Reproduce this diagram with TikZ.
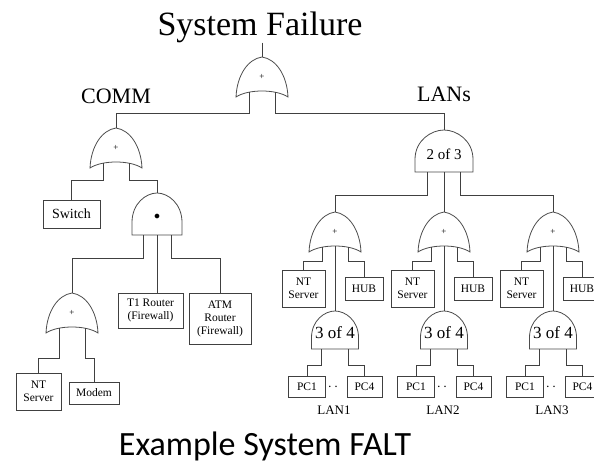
\documentclass[tikz,border=0pt]{standalone}
\usepackage{fontspec}
\setmainfont{Liberation Serif}
\newfontfamily\captionfont{Carlito}
\usetikzlibrary{%
	calc,%
	arrows.meta,%
	positioning,%
}
\tikzset{
	>=Triangle,%
	nodes={align=center},%
	wire/.style={%
			draw=black!75,%
			line width=0.8pt},%
	gate/.style={%
			draw=black!70,%
			line width=0.8pt,%
			fill=white},%
	gatetext/.style={%
			inner sep=0,%
			font={\fontsize{15}{15}\selectfont}},%
	event/.style={%
			draw=black!75,%
			rectangle,%
			line width=0.8pt,%
			inner sep=0,%
			font={\fontsize{11.5}{13}\selectfont}},%
	heading/.style={%
			inner sep=0,%
			anchor=base,%
			font={\fontsize{22}{24}\selectfont}},%
	lanname/.style={%
			inner sep=0,%
			anchor=base,%
			font={\fontsize{13}{14}\selectfont}},%
	pics/orgate/.style={code={%
				\draw[gate] (-26,40) .. controls (-25,18) and (-14,2) .. (0,0) .. controls (14,2) and (25,18) .. (26,40) .. controls (14,32) and (-14,32) .. cycle;
				\node[gatetext, font={\fontsize{9}{9}\selectfont}] (-sym) at (0,20) {+};
				\coordinate (-out) at (0,0);
				\coordinate (-l) at (-13,35);
				\coordinate (-m) at (0,34);
				\coordinate (-r) at (13,35);
			}},%
	pics/andgate/.style n args={3}{code={%
				\draw[gate] (-#1/2,#2) -- (-#1/2,0.7*#2) .. controls (-#1/2,0.25*#2) and (-0.22*#1,0) .. (0,0) .. controls (0.22*#1,0) and (#1/2,0.25*#2) .. (#1/2,0.7*#2) -- (#1/2,#2) -- cycle;
				\node[gatetext] (-sym) at (0,0.57*#2) {#3};
				\coordinate (-out) at (0,0);
				\coordinate (-l) at (-0.28*#1,#2);
				\coordinate (-m) at (0,#2);
				\coordinate (-r) at (0.28*#1,#2);
			}},%
}

\begin{document}
\begin{tikzpicture}[x=1pt, y=-1pt]%
	\useasboundingbox (0,0) rectangle (594,469);

	\node[inner sep=0, anchor=base, font={\fontsize{34}{36}\selectfont}] (title) at (260,35) {System Failure};
	\pic (sf) at (262,57) {orgate};

	\node[heading] (comm) at (116,103) {COMM};
	\pic (co) at (116,128) {orgate};
	\node[event, font={\fontsize{14}{15}\selectfont}, minimum width=57, minimum height=28] (sw) at (71.5,214) {Switch};
	\pic (fw) at (157,193) {andgate={50}{42}{\fontsize{13}{13}\selectfont$\bullet$}};
	\pic (srv) at (72,293) {orgate};
	\node[event, minimum width=65, minimum height=35] (t1) at (150.5,310.5) {T1 Router\\(Firewall)};
	\node[event, minimum width=62, minimum height=51] (atm) at (220,318.5) {ATM\\Router\\(Firewall)};
	\node[event, minimum width=45, minimum height=37] (nt0) at (38.5,391.5) {NT\\Server};
	\node[event, minimum width=50, minimum height=22] (mdm) at (94,393) {Modem};

	\node[heading] (lans) at (444,101) {LANs};
	\pic (vote) at (444,130) {andgate={58}{42}{2 of 3}};

	\foreach \i/\dx in {1/0,2/109,3/218} {
		\pic (lan\i) at (335+\dx,212) {orgate};
		\node[event, minimum width=43, minimum height=37] (nt\i) at (303.5+\dx,288.5) {NT\\Server};
		\node[event, minimum width=38, minimum height=23] (hub\i) at (364+\dx,288.5) {HUB};
		\pic (k\i) at (335+\dx,311) {andgate={47}{38}{\fontsize{17}{17}\selectfont 3 of 4}};
		\node[event, minimum width=37, minimum height=21] (pca\i) at (307+\dx,386.5) {PC1};
		\node[event, minimum width=35, minimum height=21] (pcb\i) at (364.5+\dx,386.5) {PC4};
		\node[inner sep=0, font={\fontsize{14}{14}\selectfont}] (dots\i) at (333+\dx,387) {$\cdot\,\cdot$};
		\node[lanname] (lbl\i) at (334+\dx,414) {LAN\i};

		\draw[wire] (lan\i-l) -- ++(0,14) -| (nt\i.north);
		\draw[wire] (lan\i-r) -- ++(0,14) -| (hub\i.north);
		\draw[wire] (lan\i-m) -- (k\i-out);
		\draw[wire] (k\i-l) -- ++(0,16) -| (pca\i.north);
		\draw[wire] (k\i-r) -- ++(0,16) -| (pcb\i.north);
	}

	\node[inner sep=0, anchor=base, font={\captionfont\fontsize{34}{36}\selectfont}] (cap) at (265,455) {Example System FALT};

	\draw[wire] (title.south -| sf-out) -- (sf-out);
	\draw[wire] (sf-l) -- ++(0,21) -| (co-out);
	\draw[wire] (sf-r) -- ++(0,21) -| (vote-out);
	\draw[wire] (co-l) -- ++(0,17) -| (sw.north);
	\draw[wire] (co-r) -- ++(0,17) -| (fw-out);
	\draw[wire] (fw-l) -- ++(0,23) -| (srv-out);
	\draw[wire] (fw-m) -- (fw-m |- t1.north);
	\draw[wire] (fw-r) -- ++(0,23) -| (atm.north);
	\draw[wire] (srv-l) -- ++(0,30) -| (nt0.north);
	\draw[wire] (srv-r) -- ++(0,30) -| (mdm.north);
	\draw[wire] (vote-l) -- ++(0,23) -| (lan1-out);
	\draw[wire] (vote-m) -- (lan2-out);
	\draw[wire] (vote-r) -- ++(0,23) -| (lan3-out);
\end{tikzpicture}
\end{document}
